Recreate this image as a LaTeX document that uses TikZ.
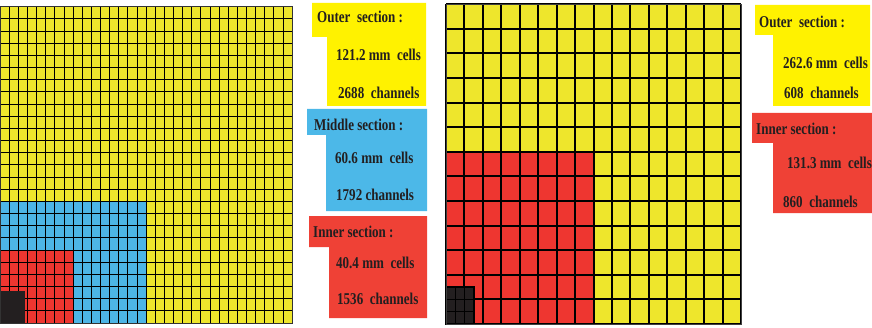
\documentclass[tikz,border=0pt]{standalone}
\usepackage{fontspec}
\newfontfamily\lblfont[FakeStretch=0.79]{Liberation Serif}
\usetikzlibrary{positioning}
\definecolor{cellyellow}{HTML}{EEE62C}
\definecolor{cellblue}{HTML}{4DB5E6}
\definecolor{cellred}{HTML}{EE3630}
\definecolor{cellblack}{HTML}{231F20}
\definecolor{boxyellow}{HTML}{FFF200}
\definecolor{boxblue}{HTML}{4CB8E8}
\definecolor{boxred}{HTML}{EF4136}
\definecolor{ink}{HTML}{231F20}
\tikzset{
  lbl/.style={anchor=west, inner sep=0pt, text=ink, font=\lblfont\bfseries\fontsize{16.5}{18}\selectfont},
  finegrid/.style={draw=black, line width=.7pt},
  coarsegrid/.style={draw=black, line width=2pt},
  frame/.style={draw=black!80, line width=1pt},
}

\begin{document}
\begin{tikzpicture}[x=1pt, y=1pt]
  \useasboundingbox (0,0) rectangle (872,327);

  % left detector, fine cells
  \begin{scope}[shift={(0,4)}, x=9.125pt, y=12.17pt]
    \fill[cellyellow] (0,0) rectangle (32,26);
    \fill[cellblue] (0,0) rectangle (16,10);
    \fill[cellred] (0,0) rectangle (8,6);
    \foreach \i in {0,...,32} \draw[finegrid] (\i,0) -- (\i,26);
    \foreach \j in {0,...,26} \draw[finegrid] (0,\j) -- (32,\j);
    \fill[cellblack] (0,0) rectangle (2.75,2.6);
    \draw[frame] (0,0) rectangle (32,26);
  \end{scope}

  % right detector, coarse cells
  \begin{scope}[shift={(446,3)}, x=18.44pt, y=24.6pt]
    \fill[cellyellow] (0,0) rectangle (16,13);
    \fill[cellred] (0,0) rectangle (8,7);
    \foreach \i in {0,...,16} \draw[coarsegrid] (\i,0) -- (\i,13);
    \foreach \j in {0,...,13} \draw[coarsegrid] (0,\j) -- (16,\j);
    \fill[cellblack] (0,0) rectangle (1.5,1.5);
    \foreach \i in {0.5,1} {
      \draw[finegrid, line width=1.2pt] (\i,0) -- (\i,1.5);
      \draw[finegrid, line width=1.2pt] (0,\i) -- (1.5,\i);
    }
    \draw[coarsegrid] (0,0) rectangle (1.5,1.5);
    \draw[frame, draw=black!75] (0,0) rectangle (16,13);
  \end{scope}

  % legend boxes, left
  \fill[boxyellow] (312,324) -- (426,324) -- (426,221) -- (327,221) -- (327,290) -- (312,290) -- cycle;
  \fill[boxblue] (307,218) -- (427,218) -- (427,116) -- (326,116) -- (326,192) -- (307,192) -- cycle;
  \fill[boxred] (309,111) -- (427,111) -- (427,9) -- (329,9) -- (329,80) -- (309,80) -- cycle;

  \node[lbl] (louter) at (317,310) {Outer~ section :};
  \node[lbl] (loutercell) at (336,272) {121.2 mm~ cells};
  \node[lbl] (louterch) at (338,234) {2688~ channels};
  \node[lbl] (lmid) at (314,202) {Middle section :};
  \node[lbl] (lmidcell) at (335,169) {60.6 mm~ cells};
  \node[lbl] (lmidch) at (336,132) {1792 channels};
  \node[lbl] (linner) at (313,95) {Inner section :};
  \node[lbl] (linnercell) at (336,64) {40.4 mm~ cells};
  \node[lbl] (linnerch) at (337,28) {1536~ channels};

  % legend boxes, right
  \fill[boxyellow] (755,322) -- (870,322) -- (870,221) -- (773,221) -- (773,292) -- (755,292) -- cycle;
  \fill[boxred] (752,214) -- (872,214) -- (872,114) -- (773,114) -- (773,184) -- (752,184) -- cycle;

  \node[lbl] (router) at (759,305) {Outer~ section :};
  \node[lbl] (routercell) at (783,264) {262.6 mm~ cells};
  \node[lbl] (routerch) at (784,234) {608~ channels};
  \node[lbl] (rinner) at (756,198) {Inner section :};
  \node[lbl] (rinnercell) at (787,164) {131.3 mm~ cells};
  \node[lbl] (rinnerch) at (783,125) {860~ channels};
\end{tikzpicture}
\end{document}
